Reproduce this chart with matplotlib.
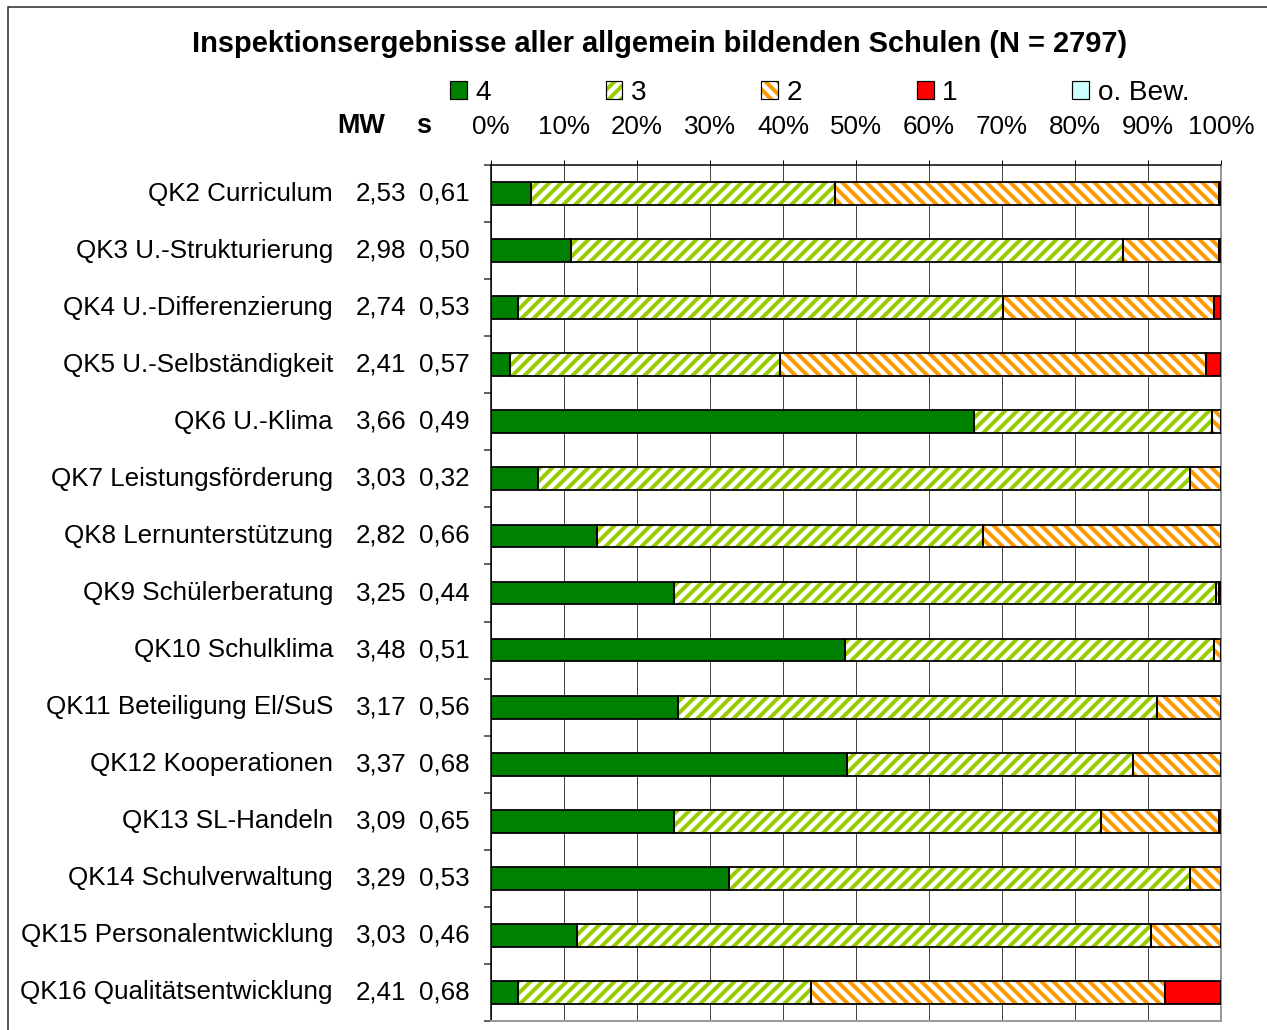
import matplotlib
matplotlib.use("Agg")
import matplotlib.pyplot as plt
import numpy as np
from matplotlib.patches import Patch, Rectangle

plt.rcParams['font.family'] = ['Liberation Sans', 'DejaVu Sans']
plt.rcParams['hatch.linewidth'] = 4.0

# data (percent of schools per rating)
categories = ["QK2 Curriculum", "QK3 U.-Strukturierung", "QK4 U.-Differenzierung",
              "QK5 U.-Selbständigkeit", "QK6 U.-Klima", "QK7 Leistungsförderung",
              "QK8 Lernunterstützung", "QK9 Schülerberatung", "QK10 Schulklima",
              "QK11 Beteiligung El/SuS", "QK12 Kooperationen", "QK13 SL-Handeln",
              "QK14 Schulverwaltung", "QK15 Personalentwicklung", "QK16 Qualitätsentwicklung"]
mw = ["2,53", "2,98", "2,74", "2,41", "3,66", "3,03", "2,82", "3,25", "3,48",
      "3,17", "3,37", "3,09", "3,29", "3,03", "2,41"]
sd = ["0,61", "0,50", "0,53", "0,57", "0,49", "0,32", "0,66", "0,44", "0,51",
      "0,56", "0,68", "0,65", "0,53", "0,46", "0,68"]
rating4 = [5.5, 11.0, 3.7, 2.6, 66.1, 6.4, 14.5, 25.0, 48.5, 25.6, 48.8, 25.0, 32.6, 11.8, 3.7]
rating3 = [41.6, 75.6, 66.4, 37.0, 32.6, 89.4, 52.9, 74.3, 50.5, 65.6, 39.1, 58.6, 63.2, 78.6, 40.2]
rating2 = [52.6, 13.1, 28.9, 58.4, 1.3, 4.2, 32.6, 0.4, 1.0, 8.8, 12.1, 16.1, 4.2, 9.6, 48.4]
rating1 = [0.3, 0.3, 1.0, 2.0, 0, 0, 0, 0.3, 0, 0, 0, 0.3, 0, 0, 7.7]
no_rating = [0] * 15

series_names = ["4", "3", "2", "1", "o. Bew."]
series_vals = [rating4, rating3, rating2, rating1, no_rating]
# (facecolor, hatch colour, hatch)
styles = [("#008000", None, None), ("white", "#99CC00", "//"), ("white", "#FF9900", "\\\\"),
          ("#FF0000", None, None), ("#CCFFFF", None, None)]

W, H = 1267, 1030
DPI = 72
fig = plt.figure(figsize=(W / DPI, H / DPI), dpi=DPI)
ax = fig.add_axes([491 / W, 9 / H, 730 / W, 856 / H])

y = np.arange(len(categories))
bar_h = 0.4
left = np.zeros(len(categories))
for vals, (fc, hc, hatch) in zip(series_vals, styles):
    v = np.array(vals, dtype=float)
    m = v > 0
    if m.any():
        if hatch:
            ax.barh(y[m], v[m], left=left[m], height=bar_h, color=fc,
                    edgecolor=hc, hatch=hatch, linewidth=0, zorder=2)
            ax.barh(y[m], v[m], left=left[m], height=bar_h, fill=False,
                    edgecolor="black", linewidth=1.8, zorder=3)
        else:
            ax.barh(y[m], v[m], left=left[m], height=bar_h, color=fc,
                    edgecolor="black", linewidth=1.8, zorder=3)
    left += v

ax.set_xlim(0, 100)
ax.set_ylim(len(categories) - 0.5, -0.5)
ax.set_xticks(np.arange(0, 101, 10))
ax.set_xticklabels([f"{t}%" for t in range(0, 101, 10)])
ax.xaxis.tick_top()
ax.tick_params(axis="x", which="major", length=5, width=1, pad=21, labelsize=26,
               color="black")
ax.set_yticks(y)
ax.set_yticklabels([])
ax.tick_params(axis="y", which="major", length=0)
ax.set_yticks(np.arange(-0.5, len(categories), 1), minor=True)
ax.tick_params(axis="y", which="minor", length=7, width=1.5, color="#333333")
ax.grid(axis="x", color="#444444", linewidth=1)
ax.set_axisbelow(True)
ax.spines["left"].set_linewidth(1.5)
ax.spines["top"].set_linewidth(1.5)
for s in ("right", "bottom"):
    ax.spines[s].set_color("#999999")
    ax.spines[s].set_linewidth(2)

# category labels, mean and standard deviation columns
tr = ax.get_yaxis_transform()
for i, (lab, m_, s_) in enumerate(zip(categories, mw, sd)):
    ax.text(-158 / 730, i, lab, transform=tr, ha="right", va="center", fontsize=26)
    ax.text(-110 / 730, i, m_, transform=tr, ha="center", va="center", fontsize=26)
    ax.text(-47 / 730, i, s_, transform=tr, ha="center", va="center", fontsize=26)
fig.text(361 / W, 1 - 126 / H, "MW", ha="center", va="center", fontsize=27,
         fontweight="bold")
fig.text(424 / W, 1 - 126 / H, "s", ha="center", va="center", fontsize=27,
         fontweight="bold")

fig.text(660 / W, 1 - 44 / H,
         "Inspektionsergebnisse aller allgemein bildenden Schulen (N = 2797)",
         ha="center", va="center", fontsize=29, fontweight="bold")

handles = []
for fc, hc, hatch in styles:
    if hatch:
        handles.append((Patch(facecolor=fc, edgecolor=hc, hatch=hatch, linewidth=0),
                        Patch(fill=False, edgecolor="black", linewidth=1.2)))
    else:
        handles.append(Patch(facecolor=fc, edgecolor="black", linewidth=1.2))
fig.legend(handles, series_names, loc="center left",
           bbox_to_anchor=(450 / W, 1 - 93 / H), ncol=5, frameon=False,
           fontsize=28, handlelength=0.6, handleheight=0.6, handletextpad=0.3,
           columnspacing=4.1, borderpad=0, borderaxespad=0)

# outer chart frame (cut off at right and bottom like the reference)
fig.add_artist(Rectangle((8 / W, -0.05), 1.1, 1.05 - 7 / H, transform=fig.transFigure,
                         fill=False, edgecolor="#222222", linewidth=1.5))

fig.savefig("out.png", dpi=DPI)
